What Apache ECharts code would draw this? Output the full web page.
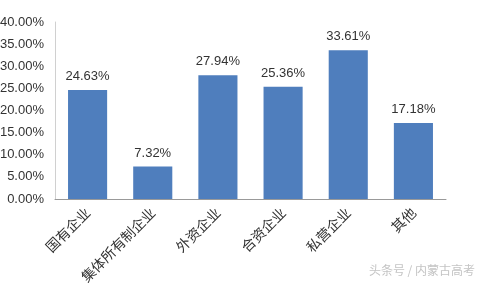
<!DOCTYPE html>
<html><head><meta charset="utf-8">
<script src="https://cdn.jsdelivr.net/npm/echarts@6/dist/echarts.min.js"></script>
<style>html,body{margin:0;padding:0;background:#fff}#c{width:481px;height:288px}</style>
</head><body><div id="c"></div>
<script>
const categories = ['国有企业','集体所有制企业','外资企业','合资企业','私营企业','其他'];
const values = [24.63, 7.32, 27.94, 25.36, 33.61, 17.18];
const yTicks = [0, 5, 10, 15, 20, 25, 30, 35, 40];
const watermark = '头条号 / 内蒙古高考';

const chart = echarts.init(document.getElementById('c'));
chart.setOption({
  animation: false,
  grid: {left: 55, right: 35, top: 22, bottom: 89, outerBoundsMode: 'none', containLabel: false},
  graphic: [{type: 'text', right: 6, bottom: 12, style: {text: watermark, fill: '#c4c4c4', font: '12px "Noto Sans CJK SC"'}}],
  xAxis: {
    type: 'category', data: categories,
    axisLine: {lineStyle: {color: '#999'}},
    axisTick: {show: false},
    axisLabel: {rotate: 45, interval: 0, fontSize: 14, color: '#333', margin: 11, fontFamily: 'Noto Sans CJK SC'}
  },
  yAxis: {
    type: 'value', min: yTicks[0], max: yTicks[yTicks.length-1], interval: 5,
    axisLine: {show: true, lineStyle: {color: '#d0d0d0'}},
    axisTick: {show: false},
    splitLine: {show: false},
    axisLabel: {formatter: v => v.toFixed(2) + '%', fontSize: 13, color: '#333', margin: 11, fontFamily: 'Liberation Sans'}
  },
  series: [{
    type: 'bar', data: values, barWidth: '60%',
    itemStyle: {color: '#4f7ebd'},
    label: {show: true, position: 'top', formatter: p => p.value.toFixed(2) + '%', fontSize: 13, color: '#333', distance: 7, fontFamily: 'Liberation Sans'}
  }]
});
</script></body></html>
